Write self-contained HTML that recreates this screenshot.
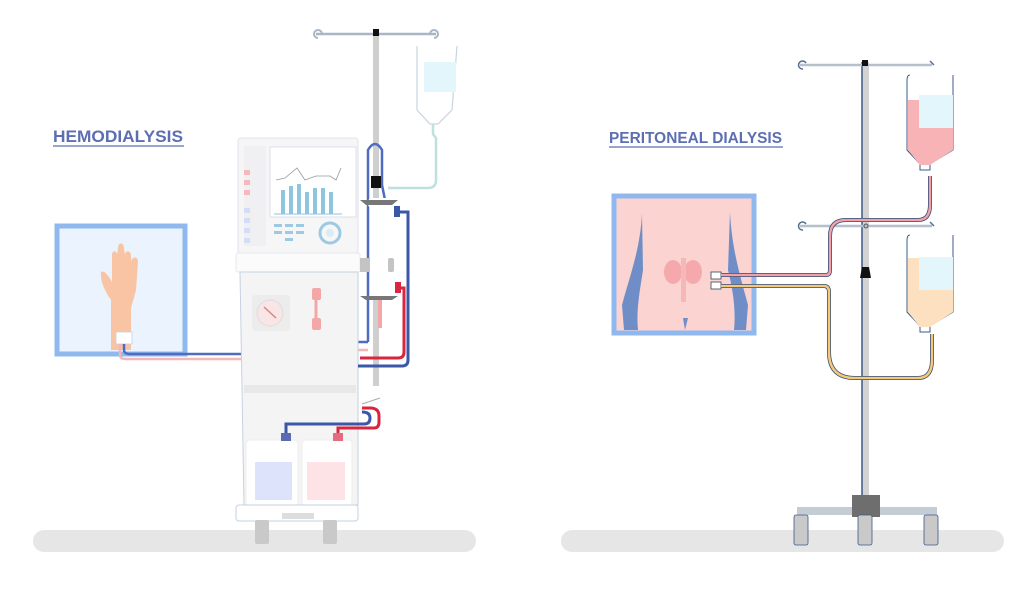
<!DOCTYPE html>
<html><head><meta charset="utf-8"><style>
html,body{margin:0;padding:0;background:#fff;width:1024px;height:591px;overflow:hidden}
svg{display:block}
text{font-family:"Liberation Sans",sans-serif;font-weight:bold}
</style></head><body>
<svg width="1024" height="591" viewBox="0 0 1024 591" xmlns="http://www.w3.org/2000/svg">
<rect x="33" y="530" width="443" height="22" rx="11" fill="#e6e6e6"/>
<rect x="561" y="530" width="443" height="22" rx="11" fill="#e6e6e6"/>

<text x="53" y="142" font-size="17" fill="#5d6fb2" textLength="130" lengthAdjust="spacingAndGlyphs">HEMODIALYSIS</text>
<line x1="53" y1="146" x2="184" y2="146" stroke="#5d6fb2" stroke-width="1.3"/>
<text x="609" y="143" font-size="15.5" fill="#5d6fb2" textLength="173" lengthAdjust="spacingAndGlyphs">PERITONEAL DIALYSIS</text>
<line x1="609" y1="147" x2="783" y2="147" stroke="#5d6fb2" stroke-width="1.3"/>

<rect x="57" y="226" width="128" height="128" fill="#eaf3fe" stroke="#8fb8ef" stroke-width="5"/>
<path d="M111,350 L111,300 C104,290 100,280 101,272 C104,270 108,275 112,282 L112,255 C112,250 117,250 117,255 L118,248 C118,242 124,242 124,248 L125,255 C125,250 131,250 131,256 L131,262 C132,256 138,256 138,262 L136,290 C134,298 132,304 131,308 L131,350 Z" fill="#f9c4a3"/>
<rect x="116" y="332" width="16" height="12" fill="#fff" stroke="#ccd" stroke-width="0.8"/>
<path d="M124,344 L124,350 Q124,354 130,354 L246,354 L246,284 L316,284 L316,342 L368,342" fill="none" stroke="#4f6cc2" stroke-width="2.5"/>
<path d="M120,344 L120,355 Q120,359 126,359 L264,359 L264,322 M278,322 L278,350 L368,350" fill="none" stroke="#f4b6b6" stroke-width="2.5"/>

<rect x="373" y="34" width="6" height="352" fill="#cfcfcf"/>
<line x1="316" y1="34" x2="436" y2="34" stroke="#a8b6c8" stroke-width="2.5"/>
<path d="M318,38 a4,4 0 1 1 4,-4 M434,38 a4,4 0 1 0 -4,-4" fill="none" stroke="#a8b6c8" stroke-width="2"/>
<rect x="373" y="29" width="6" height="7" fill="#111"/>
<path d="M417,46 L417,110 L430,124 L438,124 L452,110 L457,46" fill="#fff" stroke="#c9d4de" stroke-width="1.2"/>
<rect x="424" y="62" width="32" height="30" fill="#e2f6fb"/>
<path d="M433,124 L433,134 L436,138 L436,180 Q436,188 428,188 L388,188" fill="none" stroke="#bfe0de" stroke-width="2.5"/>

<rect x="238" y="138" width="120" height="116" rx="3" fill="#f6f6f7" stroke="#dfe3ec"/>
<rect x="244" y="146" width="22" height="100" fill="#f0f0f2"/>
<rect x="244" y="170" width="6" height="5" fill="#f5b9bd"/><rect x="244" y="180" width="6" height="5" fill="#f5b9bd"/><rect x="244" y="190" width="6" height="5" fill="#f5b9bd"/>
<rect x="244" y="208" width="6" height="5" fill="#d5dcf8"/><rect x="244" y="218" width="6" height="5" fill="#d5dcf8"/><rect x="244" y="228" width="6" height="5" fill="#d5dcf8"/><rect x="244" y="238" width="6" height="5" fill="#d5dcf8"/>
<rect x="270" y="147" width="86" height="70" fill="#fff" stroke="#dde"/>
<path d="M276,180 L285,178 L297,168 L305,180 L316,176 L330,176 L336,180 L341,168" fill="none" stroke="#999" stroke-width="0.8"/>
<g fill="#8ec5df"><rect x="281" y="190" width="4" height="24"/><rect x="289" y="186" width="4" height="28"/><rect x="297" y="184" width="4" height="30"/><rect x="305" y="192" width="4" height="22"/><rect x="313" y="188" width="4" height="26"/><rect x="321" y="188" width="4" height="26"/><rect x="329" y="192" width="4" height="22"/></g>
<line x1="274" y1="214" x2="342" y2="214" stroke="#8ec5df" stroke-width="1"/>
<g fill="#9cc9e4"><rect x="274" y="224" width="8" height="3"/><rect x="285" y="224" width="8" height="3"/><rect x="296" y="224" width="8" height="3"/><rect x="274" y="231" width="8" height="3"/><rect x="285" y="231" width="8" height="3"/><rect x="296" y="231" width="8" height="3"/><rect x="285" y="238" width="8" height="3"/></g>
<circle cx="330" cy="233" r="10" fill="none" stroke="#9cc9e4" stroke-width="3"/>
<circle cx="330" cy="233" r="4" fill="#d8ecf6"/>
<rect x="236" y="253" width="124" height="19" rx="2" fill="#fbfbfb" stroke="#e6e8ee"/>
<path d="M240,272 L358,272 L358,505 L244,505 Z" fill="#f4f4f5" stroke="#c5d2e4"/>
<rect x="244" y="385" width="112" height="8" fill="#e8e8e8"/>
<rect x="252" y="295" width="38" height="36" rx="4" fill="#ececec"/>
<circle cx="270" cy="313" r="13" fill="#f8e6e6" stroke="#ddd"/>
<line x1="264" y1="307" x2="276" y2="318" stroke="#e08080" stroke-width="1.5"/>
<rect x="312" y="288" width="9" height="12" rx="2" fill="#f4a7a7"/><rect x="312" y="318" width="9" height="12" rx="2" fill="#f4a7a7"/>
<line x1="316" y1="300" x2="316" y2="318" stroke="#f4a7a7" stroke-width="3"/>
<rect x="246" y="440" width="52" height="66" rx="4" fill="#fff" stroke="#eee"/>
<rect x="255" y="462" width="37" height="38" fill="#dde3fb"/>
<rect x="302" y="440" width="50" height="66" rx="4" fill="#fff" stroke="#eee"/>
<rect x="307" y="462" width="38" height="38" fill="#fde3e6"/>
<rect x="281" y="433" width="10" height="8" fill="#5a6bb0"/>
<rect x="333" y="433" width="10" height="8" fill="#e46c80"/>
<path d="M286,433 L286,424 L364,424 Q370,424 370,418 Q370,412 362,412" fill="none" stroke="#3b57a8" stroke-width="3"/>
<path d="M338,433 L338,428 L374,428 Q379,428 379,422 L379,416 Q379,408 370,408 L362,408" fill="none" stroke="#d9263e" stroke-width="3"/>
<line x1="362" y1="404" x2="380" y2="398" stroke="#aaa"/>
<rect x="236" y="505" width="122" height="16" rx="3" fill="#fff" stroke="#c5d2e4"/>
<rect x="282" y="513" width="32" height="6" fill="#ddd"/>
<rect x="255" y="520" width="14" height="24" rx="2" fill="#c9c9c9"/><rect x="323" y="520" width="14" height="24" rx="2" fill="#c9c9c9"/>

<path d="M368,342 L368,150 Q375,138 382,150 L382,185 L386,205" fill="none" stroke="#4f6cc2" stroke-width="2.5"/>
<rect x="371" y="176" width="10" height="12" fill="#111"/>
<rect x="368" y="198" width="30" height="10" rx="4" fill="#fff"/>
<path d="M366,205 L392,205 L398,200 L360,200 Z" fill="#777"/>
<rect x="370" y="208" width="22" height="90" fill="#fff"/>
<path d="M366,300 L392,300 L398,296 L360,296 Z" fill="#777"/>
<rect x="360" y="258" width="10" height="14" fill="#c4c4c4"/><rect x="388" y="258" width="6" height="14" rx="2" fill="#c4c4c4"/>
<rect x="394" y="206" width="6" height="11" fill="#3b57a8"/>
<rect x="395" y="282" width="6" height="11" fill="#d9263e"/>
<path d="M400,212 L408,212 L408,360 Q408,366 402,366 L358,366" fill="none" stroke="#3b57a8" stroke-width="3"/>
<path d="M401,288 L404,288 L404,352 Q404,358 398,358 L360,358" fill="none" stroke="#d9263e" stroke-width="3"/>
<rect x="378" y="300" width="4" height="28" fill="#f4a7a7"/>

<rect x="614" y="196" width="140" height="137" fill="#fbd3d0" stroke="#8fb8ef" stroke-width="5"/>
<path d="M642,214 C640,250 630,275 622,305 L624,330 L638,330 C636,310 640,290 643,270 Z" fill="#6f8ec7"/>
<path d="M730,212 C732,250 740,275 748,305 L746,330 L734,330 C736,310 733,290 728,270 Z" fill="#6f8ec7"/>
<path d="M685,330 L683,318 L688,318 Z" fill="#6f8ec7"/>
<ellipse cx="673" cy="272" rx="9" ry="12" fill="#f6a9ad"/>
<ellipse cx="693" cy="272" rx="9" ry="12" fill="#f6a9ad"/>
<rect x="681" y="258" width="5" height="44" fill="#f6b7b9"/>
<rect x="711" y="272" width="10" height="7" fill="#fff" stroke="#345" stroke-width="0.8"/>
<rect x="711" y="282" width="10" height="7" fill="#fff" stroke="#345" stroke-width="0.8"/>

<rect x="862" y="62" width="7" height="450" fill="#d3d3d3"/>
<line x1="862" y1="62" x2="862" y2="512" stroke="#3d5a88" stroke-width="1.5"/>
<line x1="800" y1="65" x2="932" y2="65" stroke="#b5c0cc" stroke-width="2.5"/>
<line x1="800" y1="226" x2="932" y2="226" stroke="#b5c0cc" stroke-width="2.5"/>
<path d="M803,69 a4,4 0 1 1 3,-6 M930,61 l4,4 M803,230 a4,4 0 1 1 3,-6 M930,222 l4,4" fill="none" stroke="#5a6d90" stroke-width="1.5"/>
<rect x="862" y="60" width="6" height="6" fill="#111"/>
<circle cx="866" cy="226" r="2" fill="none" stroke="#555"/>
<path d="M860,278 L871,278 L869,267 L862,267 Z" fill="#111"/>
<path d="M910,75 Q907,75 907,80 L907,150 L920,164 L920,170 L930,170 L930,164 L953,150 L953,75" fill="#fff" stroke="#3d5a88" stroke-width="1"/>
<path d="M908,100 L919,100 L919,128 L953,128 L953,150 L930,165 L920,165 L908,150 Z" fill="#f8b3b6"/>
<rect x="919" y="95" width="34" height="33" fill="#e2f6fb"/>
<path d="M910,235 Q907,235 907,240 L907,312 L920,326 L920,332 L930,332 L930,326 L953,312 L953,235" fill="#fff" stroke="#3d5a88" stroke-width="1"/>
<path d="M908,258 L919,258 L919,290 L953,290 L953,312 L930,327 L920,327 L908,312 Z" fill="#fde0bf"/>
<rect x="919" y="257" width="34" height="33" fill="#e2f6fb"/>
<path d="M721,275 L826,275 Q830,275 830,270 L830,236 Q830,220 846,220 L918,220 Q930,220 930,205 L930,176" fill="none" stroke="#2f4e7a" stroke-width="4"/>
<path d="M721,275 L826,275 Q830,275 830,270 L830,236 Q830,220 846,220 L918,220 Q930,220 930,205 L930,176" fill="none" stroke="#f0a0a6" stroke-width="2.5"/>
<path d="M721,286 L824,286 Q829,286 829,292 L829,352 Q829,378 855,378 L918,378 Q932,378 932,360 L932,334" fill="none" stroke="#2f4e7a" stroke-width="4"/>
<path d="M721,286 L824,286 Q829,286 829,292 L829,352 Q829,378 855,378 L918,378 Q932,378 932,360 L932,334" fill="none" stroke="#f6c877" stroke-width="2.5"/>
<rect x="797" y="507" width="140" height="8" fill="#c4ccd6"/>
<rect x="852" y="495" width="28" height="22" fill="#6e6e6e"/>
<rect x="794" y="515" width="14" height="30" rx="2" fill="#c9c9c9" stroke="#3d5a88" stroke-width="0.8"/>
<rect x="858" y="515" width="14" height="30" rx="2" fill="#c9c9c9" stroke="#3d5a88" stroke-width="0.8"/>
<rect x="924" y="515" width="14" height="30" rx="2" fill="#c9c9c9" stroke="#3d5a88" stroke-width="0.8"/>
</svg>
</body></html>
